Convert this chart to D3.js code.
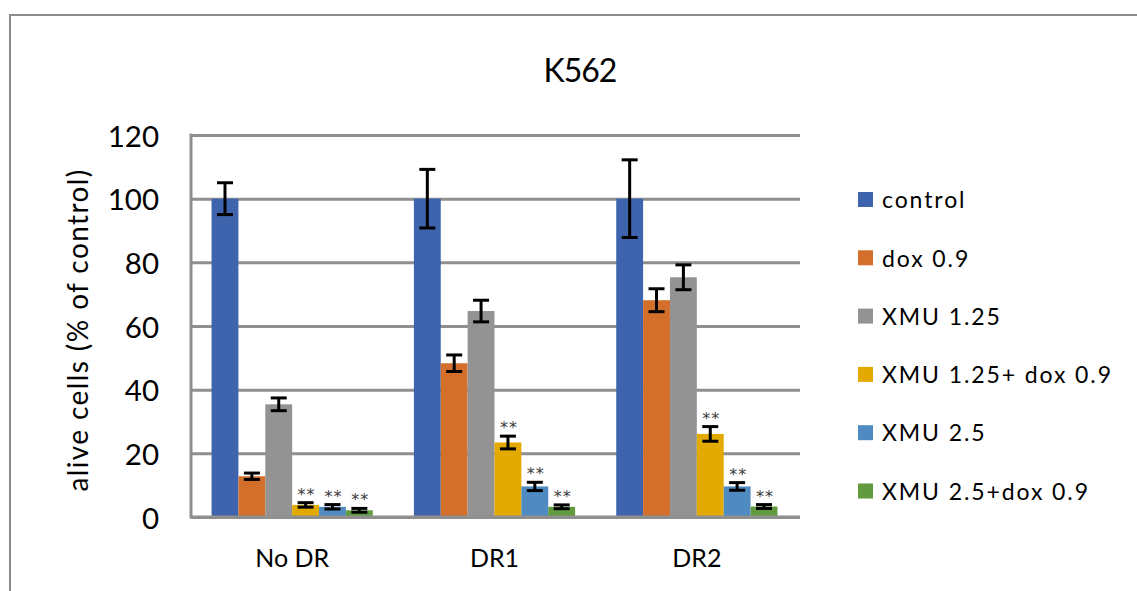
<!DOCTYPE html>
<html>
<head>
<meta charset="utf-8">
<script src="https://cdn.jsdelivr.net/npm/d3@7"></script>
<style>
  html, body { margin: 0; padding: 0; background: #ffffff; }
  svg { display: block; font-family: Lato, "Open Sans", sans-serif; }
</style>
</head>
<body>
<script>
// K562 viability per treatment, grouped by DR condition
const groups = ["No DR", "DR1", "DR2"];
const series = ["control", "dox 0.9", "XMU 1.25", "XMU 1.25+ dox 0.9", "XMU 2.5", "XMU 2.5+dox 0.9"];
const colors = ["#3e64ad", "#d36e2b", "#939393", "#e3aa02", "#4f8ac1", "#629a3f"];

// mean alive cells (% of control), one row per series, one entry per group
const control   = [100, 100, 100];
const dox09     = [12.8, 48.3, 68.1];
const xmu125    = [35.4, 64.7, 75.3];
const xmu125Dox = [3.8, 23.4, 26.1];
const xmu25     = [3.2, 9.6, 9.6];
const xmu25Dox  = [2.1, 3.2, 3.3];

// error bar half-widths
const errControl   = [5.0, 9.2, 12.2];
const errDox09     = [1.0, 2.6, 3.6];
const errXmu125    = [2.0, 3.4, 3.9];
const errXmu125Dox = [0.7, 2.0, 2.3];
const errXmu25     = [0.7, 1.3, 1.2];
const errXmu25Dox  = [0.6, 0.6, 0.6];

// significance marks per series
const significance = ["", "", "", "**", "**", "**"];

const yTicks = [0, 20, 40, 60, 80, 100, 120];
const yTitle = "alive cells (% of control)";
const chartTitle = "K562";

const valueRows = [control, dox09, xmu125, xmu125Dox, xmu25, xmu25Dox];
const errRows = [errControl, errDox09, errXmu125, errXmu125Dox, errXmu25, errXmu25Dox];

const records = [];
groups.forEach((g, gi) => {
  series.forEach((s, si) => {
    records.push({
      group: g, series: s, color: colors[si],
      value: valueRows[si][gi], err: errRows[si][gi], mark: significance[si]
    });
  });
});

const W = 1137, H = 591;
const svg = d3.select("body").append("svg").attr("width", W).attr("height", H);

// chart frame
svg.append("rect")
  .attr("x", 10).attr("y", 15).attr("width", 1300).attr("height", 800)
  .attr("fill", "none").attr("stroke", "#8c8c8c").attr("stroke-width", 2);

const plotLeft = 191, plotRight = 798, gridRight = 800;
const x0 = d3.scaleBand().domain(groups).range([plotLeft, plotRight]).padding(0);
const x1 = d3.scaleBand().domain(series).range([0, x0.bandwidth()])
  .paddingInner(0).paddingOuter(0.765);
const y = d3.scaleLinear().domain([0, 120]).range([517, 135]);

// horizontal gridlines
svg.append("g")
  .attr("transform", `translate(${plotLeft},0)`)
  .call(d3.axisLeft(y).tickValues(yTicks).tickSize(-(gridRight - plotLeft)).tickFormat(""))
  .call(g => g.select(".domain").remove())
  .call(g => g.selectAll("line").attr("stroke", "#8f8f8f").attr("stroke-width", 3));

// vertical axis line
svg.append("line")
  .attr("x1", plotLeft).attr("x2", plotLeft)
  .attr("y1", y(120) - 1.5).attr("y2", y(0) + 1.5)
  .attr("stroke", "#8f8f8f").attr("stroke-width", 3);

// y tick labels
svg.append("g")
  .attr("transform", `translate(${plotLeft},0)`)
  .call(d3.axisLeft(y).tickValues(yTicks).tickSize(0).tickPadding(32))
  .call(g => g.select(".domain").remove())
  .call(g => g.selectAll("text")
    .attr("dy", "0.38em")
    .attr("font-family", "Lato, sans-serif")
    .attr("font-size", 29.5)
    .attr("fill", "#000"));

// bars
const bars = svg.append("g");
bars.selectAll("rect")
  .data(records)
  .join("rect")
  .attr("x", d => x0(d.group) + x1(d.series))
  .attr("y", d => y(d.value))
  .attr("width", x1.bandwidth())
  .attr("height", d => y(0) - y(d.value))
  .attr("fill", d => d.color);

// bottom axis line redrawn over the bars' base
svg.append("line")
  .attr("x1", plotLeft).attr("x2", gridRight)
  .attr("y1", y(0)).attr("y2", y(0))
  .attr("stroke", "#8f8f8f").attr("stroke-width", 3);

// error bars
const capHalf = 8;
const eb = svg.append("g").attr("stroke", "#000").attr("stroke-width", 3).attr("fill", "none");
records.forEach(d => {
  const cx = x0(d.group) + x1(d.series) + x1.bandwidth() / 2;
  const yt = y(d.value + d.err), yb = y(d.value - d.err);
  eb.append("line").attr("x1", cx).attr("x2", cx).attr("y1", yt).attr("y2", yb);
  eb.append("line").attr("x1", cx - capHalf).attr("x2", cx + capHalf).attr("y1", yt).attr("y2", yt);
  eb.append("line").attr("x1", cx - capHalf).attr("x2", cx + capHalf).attr("y1", yb).attr("y2", yb);
});

// significance marks
svg.append("g").selectAll("text")
  .data(records.filter(d => d.mark))
  .join("text")
  .attr("x", d => x0(d.group) + x1(d.series) + x1.bandwidth() / 2 + 1)
  .attr("y", d => y(d.value + d.err) - 3)
  .attr("text-anchor", "middle")
  .attr("font-family", "'DejaVu Sans', sans-serif")
  .attr("font-size", 16)
  .attr("letter-spacing", 1)
  .attr("fill", "#3a3a3a")
  .text(d => d.mark);

// group labels
svg.append("g")
  .attr("transform", `translate(0,${y(0)})`)
  .call(d3.axisBottom(x0).tickSize(0).tickPadding(0))
  .call(g => g.select(".domain").remove())
  .call(g => g.selectAll("text")
    .attr("y", 49.5).attr("dy", 0)
    .attr("font-family", "Lato, sans-serif")
    .attr("font-size", 25)
    .attr("fill", "#000"));

// y axis title
svg.append("text")
  .attr("transform", "translate(88,330) rotate(-90)")
  .attr("text-anchor", "middle")
  .attr("font-size", 28)
  .attr("letter-spacing", 1.4)
  .attr("fill", "#000")
  .text(yTitle);

// chart title
svg.append("text")
  .attr("x", 580).attr("y", 82)
  .attr("text-anchor", "middle")
  .attr("font-size", 32)
  .attr("letter-spacing", -1)
  .attr("fill", "#000")
  .text(chartTitle);

// legend
const legend = svg.append("g").attr("transform", "translate(858,200)");
const rowStep = 58.3;
const item = legend.selectAll("g")
  .data(series)
  .join("g")
  .attr("transform", (d, i) => `translate(0,${i * rowStep})`);
item.append("rect")
  .attr("x", 0).attr("y", -8).attr("width", 15).attr("height", 15)
  .attr("fill", (d, i) => colors[i]);
item.append("text")
  .attr("x", 24).attr("y", 0).attr("dy", "0.36em")
  .attr("font-size", 23)
  .attr("letter-spacing", 1.9)
  .attr("fill", "#000")
  .text(d => d);
</script>
</body>
</html>
